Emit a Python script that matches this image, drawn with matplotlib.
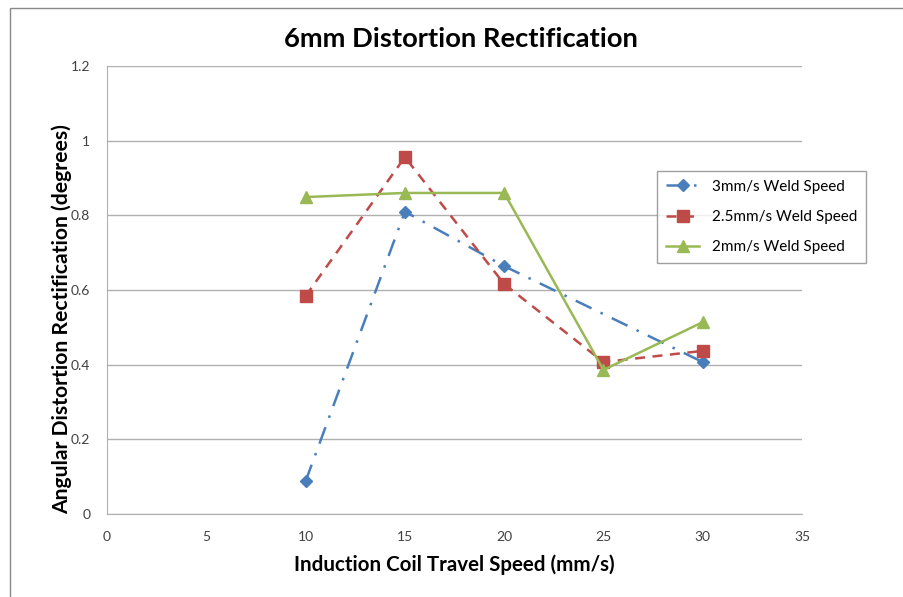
import matplotlib.pyplot as plt
from matplotlib.patches import Rectangle

plt.rcParams['font.family'] = ['Lato', 'DejaVu Sans']

travel_speed = [10, 15, 20, 25, 30]
weld_3mm_x = [10, 15, 20, 30]
weld_3mm = [0.088, 0.81, 0.664, 0.407]
weld_25mm = [0.584, 0.956, 0.616, 0.407, 0.437]
weld_2mm = [0.849, 0.86, 0.86, 0.386, 0.514]

fig = plt.figure(figsize=(9.04, 5.97), dpi=100)
ax = fig.add_axes([0.1184, 0.139, 0.7688, 0.7504])

# outer chart border
fig.patches.append(Rectangle((10 / 904, -0.1), 1.2, 1.0 - 8 / 597 + 0.1,
                             transform=fig.transFigure, fill=False,
                             edgecolor='#888888', linewidth=1.0))

ax.plot(weld_3mm_x, weld_3mm, color='#4A7EBB', linestyle=(0, (7, 4, 1, 4)),
        linewidth=1.8, marker='D', markersize=6, label='3mm/s Weld Speed')
ax.plot(travel_speed, weld_25mm, color='#BE4B48', linestyle=(0, (4, 3)),
        linewidth=1.8, marker='s', markersize=8, label='2.5mm/s Weld Speed')
ax.plot(travel_speed, weld_2mm, color='#98B954', linestyle='-',
        linewidth=1.8, marker='^', markersize=9, label='2mm/s Weld Speed')

ax.set_xlim(0, 35)
ax.set_ylim(0, 1.2)
ax.set_xticks(range(0, 36, 5))
ax.set_yticks([0, 0.2, 0.4, 0.6, 0.8, 1.0, 1.2])
ax.set_yticklabels(['0', '0.2', '0.4', '0.6', '0.8', '1', '1.2'])
ax.tick_params(length=0, labelsize=10, colors='#404040', pad=12)
ax.yaxis.grid(True, color='#B0B0B0', linewidth=1)
ax.set_axisbelow(True)
for s in ['top', 'right']:
    ax.spines[s].set_visible(False)
for s in ['left', 'bottom']:
    ax.spines[s].set_color('#B0B0B0')

title = ax.set_title('6mm Distortion Rectification', fontsize=19.7, fontweight='bold', pad=14)
title.set_x(0.509)
ax.set_xlabel('Induction Coil Travel Speed (mm/s)', fontsize=14.8, fontweight='bold',
              va='center')
ax.xaxis.set_label_coords(0.499, -0.114)
ax.set_ylabel('Angular Distortion Rectification (degrees)', fontsize=15.2, fontweight='bold',
              va='center', ha='center')
ax.yaxis.set_label_coords(-0.0647, 0.435)

leg = ax.legend(loc='upper left', bbox_to_anchor=(649 / 904, 1 - 163 / 597),
                bbox_transform=fig.transFigure, fontsize=11, frameon=True,
                fancybox=False, edgecolor='#888888', handlelength=2.2,
                labelspacing=1.05, borderpad=0.6)
leg.get_frame().set_linewidth(1)

fig.savefig('out.png', dpi=100)
